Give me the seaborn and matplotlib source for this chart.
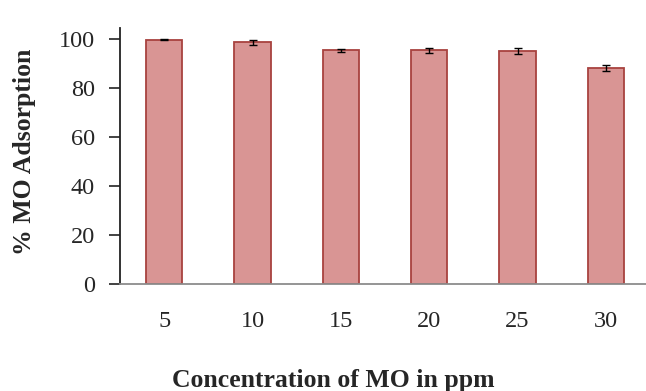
import matplotlib
matplotlib.use("Agg")
import matplotlib.pyplot as plt
import seaborn as sns
import pandas as pd
import numpy as np
from matplotlib.ticker import FixedLocator

# MO removal at each initial dye concentration
concentrations = ["5", "10", "15", "20", "25", "30"]
adsorption = [99.7, 98.6, 95.3, 95.4, 95.0, 88.0]
std_err = [0.3, 1.0, 0.7, 1.1, 1.2, 1.2]
y_ticks = [0, 20, 40, 60, 80, 100]

df = pd.DataFrame({"conc": concentrations, "ads": adsorption})

sns.set_style("white")
plt.rcParams["font.family"] = ["Liberation Serif", "DejaVu Serif"]

W, H = 646, 391
fig = plt.figure(figsize=(W / 100, H / 100), dpi=100)
ax = fig.add_axes([120 / W, (H - 283.5) / H, 530 / W, 255.8 / H])

sns.barplot(data=df, x="conc", y="ads", ax=ax, color="#D99594",
            edgecolor="#A8423F", linewidth=1.3, width=0.41,
            errorbar=None, saturation=1)

xs = [p.get_x() + p.get_width() / 2 for p in ax.patches]
ax.errorbar(xs, adsorption, yerr=std_err, fmt="none", ecolor="black",
            elinewidth=1.0, capsize=2.9, capthick=1.0)

ax.set_xlim(-0.5, 5.5)
ax.set_ylim(0, 104.6)
ax.set_yticks(y_ticks)
ax.set_yticklabels([str(t) for t in y_ticks])

# category boundaries carry the tick marks, labels sit at centres
ax.xaxis.set_minor_locator(FixedLocator(np.arange(-0.5, 6.0, 1.0)))
ax.tick_params(axis="x", which="major", length=0, pad=20, labelsize=17.5)
ax.tick_params(axis="x", which="minor", length=6, width=1.0,
               color="#8C8C8C", direction="out")
ax.tick_params(axis="y", which="major", length=8, width=1.2,
               color="#222222", direction="out", pad=10, labelsize=17.5,
               left=True)

for side in ["top", "right"]:
    ax.spines[side].set_visible(False)
ax.spines["left"].set_color("#222222")
ax.spines["left"].set_linewidth(1.3)
ax.spines["bottom"].set_color("#8C8C8C")
ax.spines["bottom"].set_linewidth(1.3)

ax.set_xlabel("")
ax.set_ylabel("")
fig.text(333 / W, 1 - 380 / H, "Concentration of MO in ppm",
         ha="center", va="center", fontsize=18.5, fontweight="bold")
fig.text(25 / W, 1 - 152 / H, "% MO Adsorption", rotation=90,
         ha="center", va="center", fontsize=18.5, fontweight="bold")

fig.savefig("out.png", dpi=100)
